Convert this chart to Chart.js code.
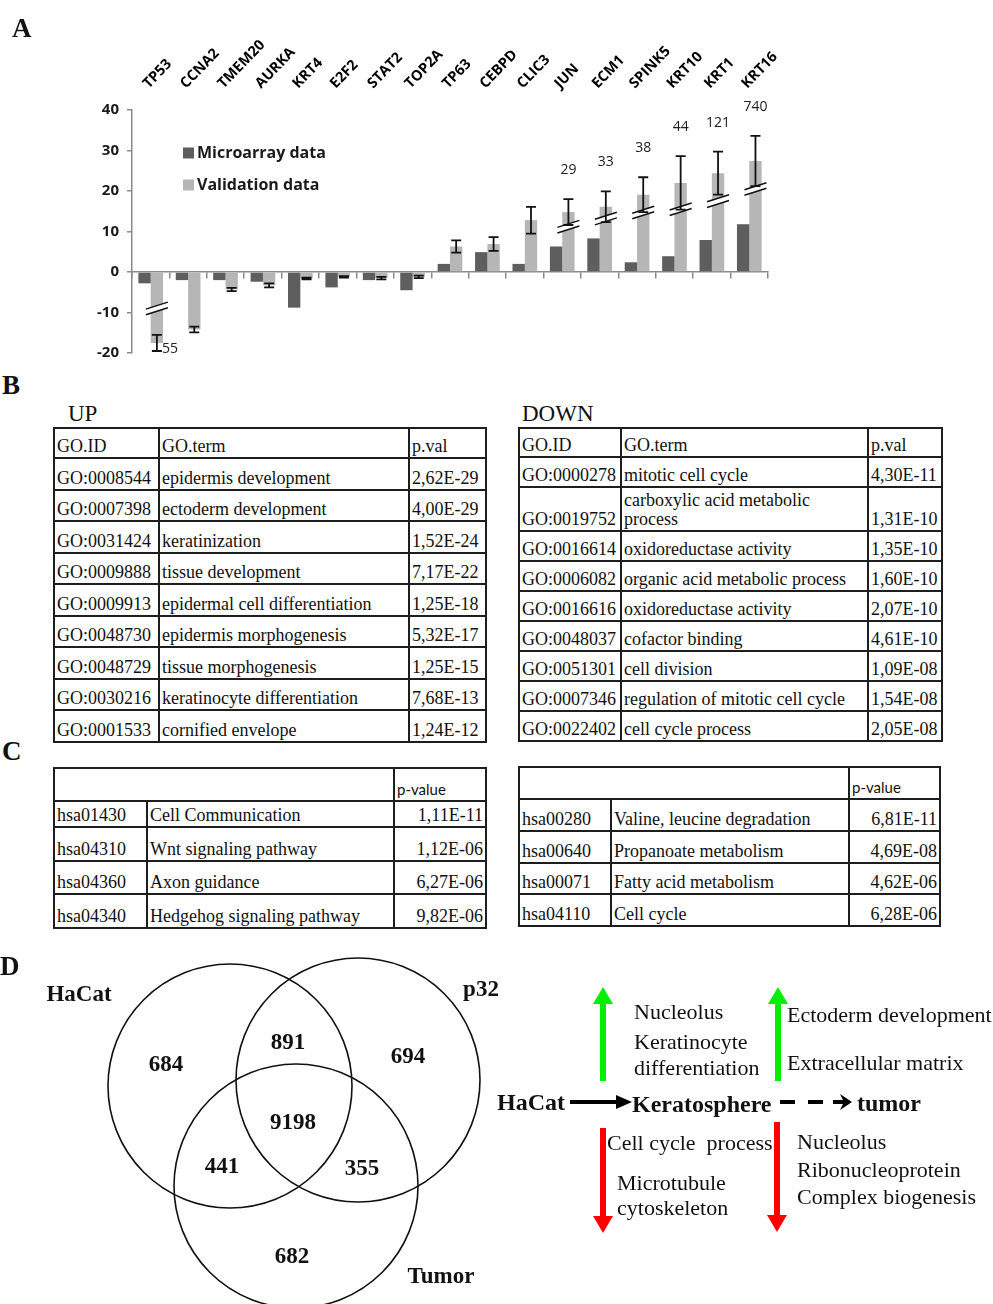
<!DOCTYPE html>
<html>
<head>
<meta charset="utf-8">
<script src="https://cdn.jsdelivr.net/npm/chart.js@4.4.1/dist/chart.umd.min.js"></script>
<style>
  html, body { margin: 0; padding: 0; background: #fff; }
  #page { position: relative; width: 993px; height: 1304px; overflow: hidden;
          font-family: "Liberation Serif", "Times New Roman", serif; color: #111; }
  .abs { position: absolute; }
  .panel { font-weight: bold; font-size: 27px; line-height: 1; }
  .ttl { font-size: 23px; line-height: 1; }
  table { border-collapse: collapse; table-layout: fixed; position: absolute; }
  td { border: 2px solid #1e1e1e; font-size: 18px; line-height: 19px; padding: 0 2px 1px 2px;
       vertical-align: bottom; white-space: pre-line; overflow: hidden; box-sizing: border-box; }
  td.r { text-align: right; }
  td.pv { font-family: Lato, sans-serif; font-size: 15px; }
  svg text { font-family: "Liberation Serif", "Times New Roman", serif; fill: #111; }
</style>
</head>
<body>
<div id="page">
  <canvas id="chartA" class="abs" width="993" height="370" style="left:0;top:0"></canvas>
  <div class="abs panel" style="left:12px;top:15px">A</div>

  <div class="abs panel" style="left:2px;top:372px">B</div>
  <div class="abs ttl" style="left:68px;top:402px">UP</div>
  <div class="abs ttl" style="left:522px;top:402px">DOWN</div>
  <table id="tblUp" style="left:53px;top:427px;width:432px"></table>
  <table id="tblDown" style="left:518px;top:427px;width:423px"></table>

  <div class="abs panel" style="left:2px;top:738px">C</div>
  <table id="tblKeggUp" style="left:53px;top:767px;width:432px"></table>
  <table id="tblKeggDown" style="left:518px;top:766px;width:421px"></table>

  <canvas id="venn" class="abs" width="500" height="364" style="left:0;top:940px"></canvas>
  <div class="abs panel" style="left:0;top:953px">D</div>

  <svg class="abs" width="993" height="1304" style="left:0;top:0;pointer-events:none">
    <!-- green up arrows -->
    <g fill="#00ee00">
      <rect x="600" y="1001" width="6" height="80"/>
      <polygon points="593,1004 603,987 613,1004"/>
      <rect x="775" y="1001" width="6" height="80"/>
      <polygon points="768,1004 778,987 788,1004"/>
    </g>
    <!-- red down arrows -->
    <g fill="#ff0000">
      <rect x="600" y="1128" width="6" height="90"/>
      <polygon points="593,1216 613,1216 603,1233"/>
      <rect x="774" y="1122" width="6" height="95"/>
      <polygon points="767,1215 787,1215 777,1232"/>
    </g>
    <!-- HaCat -> Keratosphere -->
    <line x1="570" y1="1102" x2="621" y2="1102" stroke="#000" stroke-width="4"/>
    <polygon points="616,1095 632,1102 616,1109" fill="#000"/>
    <!-- Keratosphere - - > tumor -->
    <g stroke="#000" stroke-width="4">
      <line x1="780" y1="1102" x2="795" y2="1102"/>
      <line x1="808" y1="1102" x2="823" y2="1102"/>
      <line x1="833" y1="1102" x2="845" y2="1102"/>
    </g>
    <polygon points="840,1094 852,1102 840,1110 844,1102" fill="#000"/>

    <g font-size="22">
      <text x="634" y="1019">Nucleolus</text>
      <text x="634" y="1049">Keratinocyte</text>
      <text x="634" y="1075">differentiation</text>
      <text x="787" y="1022">Ectoderm development</text>
      <text x="787" y="1070">Extracellular matrix</text>
      <text x="607" y="1150" xml:space="preserve">Cell cycle  process</text>
      <text x="617" y="1190">Microtubule</text>
      <text x="617" y="1215">cytoskeleton</text>
      <text x="797" y="1149">Nucleolus</text>
      <text x="797" y="1177">Ribonucleoprotein</text>
      <text x="797" y="1204">Complex biogenesis</text>
    </g>
    <g font-size="24" font-weight="bold">
      <text x="497" y="1110">HaCat</text>
      <text x="632" y="1112">Keratosphere</text>
      <text x="857" y="1111">tumor</text>
    </g>
  </svg>
</div>

<script>
// ── Panel A: qPCR validation of microarray data ──────────
const genes = ['TP53', 'CCNA2', 'TMEM20', 'AURKA', 'KRT4', 'E2F2', 'STAT2', 'TOP2A', 'TP63',
               'CEBPD', 'CLIC3', 'JUN', 'ECM1', 'SPINK5', 'KRT10', 'KRT1', 'KRT16'];
const microarray = [-2.8, -2.0, -2.0, -2.4, -8.8, -3.8, -2.0, -4.5, 2.0,
                    4.9, 2.0, 6.3, 8.3, 2.4, 3.9, 7.9, 11.8];
const validation = [-17.5, -14.2, -4.3, -3.3, -1.6, -1.2, -1.5, -1.2, 6.3,
                    6.9, 12.8, 14.8, 16.1, 19.1, 22.0, 24.4, 27.4];
const validationErr = [2.0, 0.7, 0.4, 0.5, 0.2, 0.2, 0.3, 0.3, 1.5,
                       1.7, 3.3, 3.2, 3.8, 4.3, 6.6, 5.3, 6.2];
// real fold change of the truncated bars
const foldLabels = ['55', '', '', '', '', '', '', '', '',
                    '', '', '29', '33', '38', '44', '121', '740'];
const breakAt = [-9, null, null, null, null, null, null, null, null,
                 null, null, 11.2, 13.2, 14.7, 15.5, 17.5, 20.5];
const yTicks = { min: -20, max: 40, step: 10 };

// ── Panel B: GO enrichment ───────────────────────────────
const upIds = ['GO:0008544', 'GO:0007398', 'GO:0031424', 'GO:0009888', 'GO:0009913',
               'GO:0048730', 'GO:0048729', 'GO:0030216', 'GO:0001533'];
const upTerms = ['epidermis development', 'ectoderm development', 'keratinization', 'tissue development',
                 'epidermal cell differentiation', 'epidermis morphogenesis', 'tissue morphogenesis',
                 'keratinocyte differentiation', 'cornified envelope'];
const upPvals = ['2,62E-29', '4,00E-29', '1,52E-24', '7,17E-22', '1,25E-18',
                 '5,32E-17', '1,25E-15', '7,68E-13', '1,24E-12'];
const downIds = ['GO:0000278', 'GO:0019752', 'GO:0016614', 'GO:0006082', 'GO:0016616',
                 'GO:0048037', 'GO:0051301', 'GO:0007346', 'GO:0022402'];
const downTerms = ['mitotic cell cycle', 'carboxylic acid metabolic\nprocess', 'oxidoreductase activity',
                   'organic acid metabolic process', 'oxidoreductase activity', 'cofactor binding',
                   'cell division', 'regulation of mitotic cell cycle', 'cell cycle process'];
const downPvals = ['4,30E-11', '1,31E-10', '1,35E-10', '1,60E-10', '2,07E-10',
                   '4,61E-10', '1,09E-08', '1,54E-08', '2,05E-08'];

// ── Panel C: KEGG pathways ───────────────────────────────
const keggUpIds = ['hsa01430', 'hsa04310', 'hsa04360', 'hsa04340'];
const keggUpNames = ['Cell Communication', 'Wnt signaling pathway', 'Axon guidance', 'Hedgehog signaling pathway'];
const keggUpPvals = ['1,11E-11', '1,12E-06', '6,27E-06', '9,82E-06'];
const keggDownIds = ['hsa00280', 'hsa00640', 'hsa00071', 'hsa04110'];
const keggDownNames = ['Valine, leucine degradation', 'Propanoate metabolism', 'Fatty acid metabolism', 'Cell cycle'];
const keggDownPvals = ['6,81E-11', '4,69E-08', '4,62E-06', '6,28E-06'];

// ── Panel D: Venn ────────────────────────────────────────
const vennSets = ['HaCat', 'p32', 'Tumor'];
const vennCounts = [684, 891, 694, 9198, 441, 355, 682];

Chart.defaults.font.family = '"Open Sans", sans-serif';

/* ── Panel A chart ─────────────────────────────────────── */
const annotA = {
  id: 'annotA',
  afterDatasetsDraw(chart) {
    const { ctx, scales: { y } } = chart;
    const bars = chart.getDatasetMeta(1).data;
    ctx.save();
    // axis breaks
    breakAt.forEach((b, i) => {
      if (b === null) return;
      const cx = bars[i].x, py = y.getPixelForValue(b);
      const w = 11, s = 3.5, g = 2.8;
      ctx.beginPath();
      ctx.moveTo(cx - w, py + s - g); ctx.lineTo(cx + w, py - s - g);
      ctx.lineTo(cx + w, py - s + g); ctx.lineTo(cx - w, py + s + g);
      ctx.closePath();
      ctx.fillStyle = '#fff'; ctx.fill();
      ctx.beginPath();
      ctx.moveTo(cx - w, py + s - g); ctx.lineTo(cx + w, py - s - g);
      ctx.moveTo(cx - w, py + s + g); ctx.lineTo(cx + w, py - s + g);
      ctx.strokeStyle = '#111'; ctx.lineWidth = 1.5; ctx.stroke();
    });
    // error bars
    ctx.strokeStyle = '#111'; ctx.lineWidth = 1.8;
    validation.forEach((v, i) => {
      const e = validationErr[i];
      const cx = bars[i].x;
      const y1 = y.getPixelForValue(v - e), y2 = y.getPixelForValue(v + e);
      ctx.beginPath();
      ctx.moveTo(cx, y1); ctx.lineTo(cx, y2);
      ctx.moveTo(cx - 5, y1); ctx.lineTo(cx + 5, y1);
      ctx.moveTo(cx - 5, y2); ctx.lineTo(cx + 5, y2);
      ctx.stroke();
    });
    // fold change labels
    ctx.fillStyle = '#222';
    ctx.font = '14px "Open Sans", sans-serif';
    ctx.textBaseline = 'middle';
    foldLabels.forEach((t, i) => {
      if (!t) return;
      const v = validation[i], e = validationErr[i], cx = bars[i].x;
      if (v < 0) {
        ctx.textAlign = 'left';
        ctx.fillText(t, cx + 5, y.getPixelForValue(v - e) - 2);
      } else {
        ctx.textAlign = 'center';
        ctx.fillText(t, cx, y.getPixelForValue(v + e) - 29);
      }
    });
    ctx.restore();
  },
  afterDraw(chart) {
    const { ctx, scales: { x } } = chart;
    ctx.save();
    // rotated gene names on top
    ctx.fillStyle = '#000';
    ctx.font = 'bold 14.5px "Open Sans", sans-serif';
    ctx.textAlign = 'left';
    ctx.textBaseline = 'alphabetic';
    genes.forEach((g, i) => {
      ctx.save();
      ctx.translate(x.getPixelForValue(i) - 2, 89);
      ctx.rotate(-46 * Math.PI / 180);
      ctx.fillText(g, 0, 0);
      ctx.restore();
    });
    // legend
    const items = chart.data.datasets;
    ctx.font = 'bold 16px "Open Sans", sans-serif';
    ctx.textBaseline = 'middle';
    items.forEach((ds, k) => {
      const ly = 153 + k * 32;
      ctx.fillStyle = ds.backgroundColor;
      ctx.fillRect(183, ly - 5.5, 11, 11);
      ctx.fillStyle = '#1a1a1a';
      ctx.fillText(ds.label, 197, ly);
    });
    ctx.restore();
  }
};

new Chart(document.getElementById('chartA'), {
  type: 'bar',
  data: {
    labels: genes,
    datasets: [
      { label: 'Microarray data', data: microarray, backgroundColor: '#5e5e5e',
        categoryPercentage: 0.66, barPercentage: 1 },
      { label: 'Validation data', data: validation, backgroundColor: '#b6b6b6',
        categoryPercentage: 0.66, barPercentage: 1 },
    ],
  },
  options: {
    responsive: false,
    animation: false,
    layout: { padding: { left: 0, right: 225, top: 110, bottom: 14 } },
    plugins: { legend: { display: false }, tooltip: { enabled: false } },
    scales: {
      x: {
        position: { y: 0 },
        grid: { offset: true, drawOnChartArea: false, tickLength: 6, color: '#8a8a8a', lineWidth: 1.5 },
        border: { color: '#8a8a8a', width: 1.5 },
        ticks: { display: false },
      },
      y: {
        min: yTicks.min, max: yTicks.max,
        ticks: { stepSize: yTicks.step, color: '#1a1a1a', padding: 8,
                 font: { size: 15, weight: 'bold' } },
        grid: { drawOnChartArea: false, tickLength: 5, color: '#8a8a8a', lineWidth: 1.5 },
        border: { color: '#8a8a8a', width: 1.5 },
        afterFit: s => { s.width = 132; },
      },
    },
  },
  plugins: [annotA],
});

/* ── Tables B / C ──────────────────────────────────────── */
function buildTable(id, colWidths, header, rows, heights, rightCol) {
  const t = document.getElementById(id);
  const cg = document.createElement('colgroup');
  colWidths.forEach(w => { const c = document.createElement('col'); c.style.width = w + 'px'; cg.appendChild(c); });
  t.appendChild(cg);
  [header].concat(rows).forEach((r, ri) => {
    const tr = document.createElement('tr');
    tr.style.height = heights[ri] + 'px';
    r.forEach(cell => {
      const td = document.createElement('td');
      if (typeof cell === 'object') {
        td.textContent = cell.text;
        if (cell.span) td.colSpan = cell.span;
        if (cell.cls) td.className = cell.cls;
      } else {
        td.textContent = cell;
      }
      tr.appendChild(td);
    });
    if (ri > 0 && rightCol) tr.lastChild.className = 'r';
    t.appendChild(tr);
  });
}

buildTable('tblUp', [105, 250, 77], ['GO.ID', 'GO.term', 'p.val'],
  upIds.map((d, i) => [d, upTerms[i], upPvals[i]]),
  [30, 31.5, 31.5, 31.5, 31.5, 31.5, 31.5, 31.5, 31.5, 31.5], false);

buildTable('tblDown', [102, 247, 74], ['GO.ID', 'GO.term', 'p.val'],
  downIds.map((d, i) => [d, downTerms[i], downPvals[i]]),
  [29, 30, 44, 30, 30, 30, 30, 30, 30, 30], false);

buildTable('tblKeggUp', [93, 247, 92], [{ text: '', span: 2 }, { text: 'p-value', cls: 'pv' }],
  keggUpIds.map((d, i) => [d, keggUpNames[i], keggUpPvals[i]]),
  [33, 26, 34, 33, 34], true);

buildTable('tblKeggDown', [92, 238, 91], [{ text: '', span: 2 }, { text: 'p-value', cls: 'pv' }],
  keggDownIds.map((d, i) => [d, keggDownNames[i], keggDownPvals[i]]),
  [32, 32, 32, 31, 32], true);

/* ── Panel D Venn ──────────────────────────────────────── */
// drawing layout of the (non proportional) diagram, in canvas pixels
const vennCircleLayout = [{ x: 230, y: 146, r: 122 }, { x: 358, y: 140, r: 122 }, { x: 296, y: 246, r: 122 }];
const vennCountLayout = [[166, 125], [288, 103], [408, 117], [293, 183], [222, 227], [362, 229], [292, 317]];
const vennNameLayout = [[79, 55], [481, 50], [441, 337]];

const vennText = {
  id: 'vennText',
  afterDatasetsDraw(chart) {
    const { ctx, scales: { x, y } } = chart;
    ctx.save();
    ctx.fillStyle = '#111';
    ctx.font = 'bold 23px "Liberation Serif", serif';
    ctx.textAlign = 'center';
    ctx.textBaseline = 'middle';
    vennCounts.forEach((c, i) => {
      const p = vennCountLayout[i];
      ctx.fillText(String(c), x.getPixelForValue(p[0]), y.getPixelForValue(p[1]));
    });
    vennSets.forEach((n, i) => {
      const p = vennNameLayout[i];
      ctx.fillText(n, x.getPixelForValue(p[0]), y.getPixelForValue(p[1]));
    });
    ctx.restore();
  }
};

new Chart(document.getElementById('venn'), {
  type: 'bubble',
  data: {
    datasets: [{
      data: vennCircleLayout,
      backgroundColor: 'rgba(0,0,0,0)',
      borderColor: '#111',
      borderWidth: 1.6,
      clip: false,
    }],
  },
  options: {
    responsive: false,
    animation: false,
    layout: { padding: 0, autoPadding: false },
    plugins: { legend: { display: false }, tooltip: { enabled: false } },
    scales: {
      x: { type: 'linear', min: 0, max: 500, display: false },
      y: { type: 'linear', min: 0, max: 364, reverse: true, display: false },
    },
  },
  plugins: [vennText],
});
</script>
</body>
</html>
